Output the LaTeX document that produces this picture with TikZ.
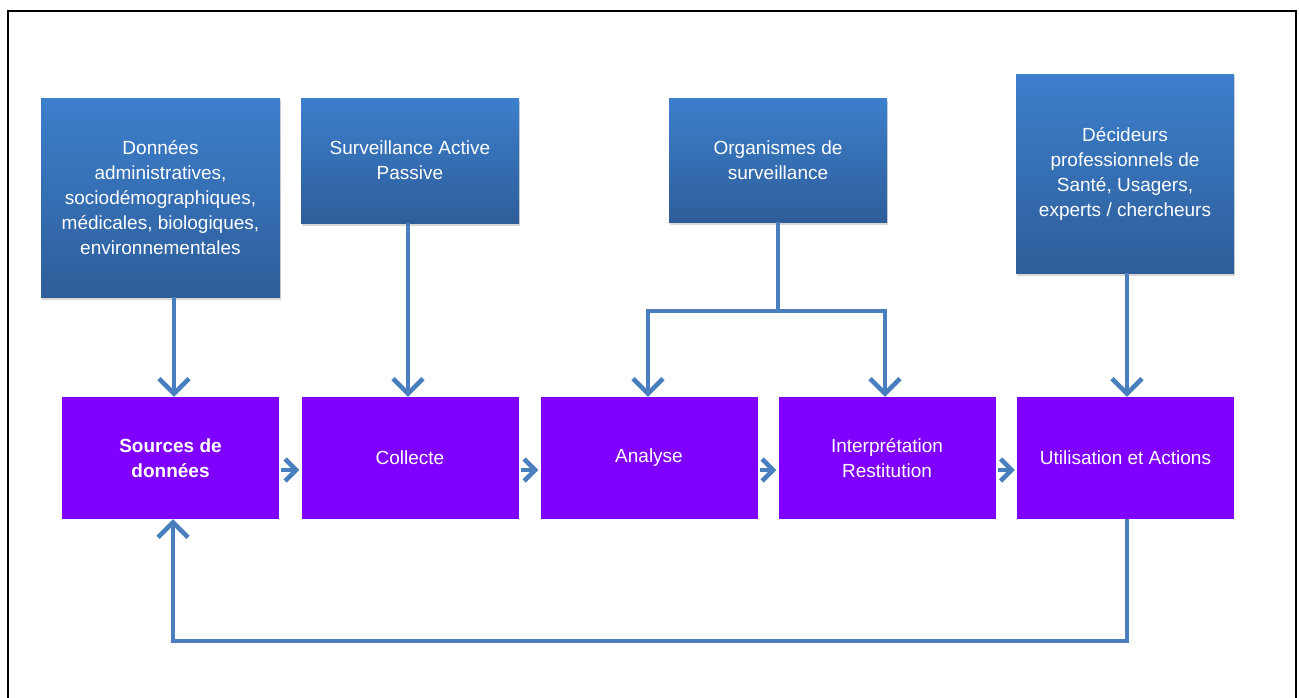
\documentclass[tikz,border=0pt]{standalone}
\usepackage{fontspec}
\setmainfont{Liberation Sans}
\usetikzlibrary{arrows.meta,shadows}
\definecolor{bluetop}{HTML}{3C7FCC}
\definecolor{bluebot}{HTML}{2E5E9A}
\definecolor{purp}{HTML}{8000FF}
\definecolor{arr}{HTML}{4A7FBF}
\begin{document}
\begin{tikzpicture}[x=1pt,y=-1pt,
  txt/.style={text=white, align=center, font=\fontsize{19}{25}\selectfont, inner sep=0pt},
  srcbox/.style={txt, top color=bluetop, bottom color=bluebot, draw=none,
     drop shadow={opacity=0.3, shadow xshift=1pt, shadow yshift=-3pt}},
  stagebox/.style={txt, fill=purp, minimum width=217pt, minimum height=122pt},
  conn/.style={draw=arr, line width=4.5pt, -{Straight Barb[length=15pt,width=30pt]}},
  link/.style={draw=arr, line width=4.5pt},
  hconn/.style={draw=arr, line width=4.5pt, -{Straight Barb[length=11pt,width=22pt]}}
]
\useasboundingbox (0,0) rectangle (1299,697);
\fill[white] (0,0) rectangle (1299,697);
\draw[line width=2pt] (8,705) -- (8,11) -- (1296,11) -- (1296,705);

% source boxes
\node[srcbox, minimum width=239pt, minimum height=199pt] (b1) at (160.5,197.5)
  {Données\\administratives,\\sociodémographiques,\\médicales, biologiques,\\environnementales};
\node[srcbox, minimum width=218pt, minimum height=125pt] (b2) at (410,160.5)
  {Surveillance Active\\Passive};
\node[srcbox, minimum width=218pt, minimum height=124pt] (b3) at (778,160)
  {Organismes de\\surveillance};
\node[srcbox, minimum width=218pt, minimum height=199pt] (b4) at (1125,173.5)
  {Décideurs\\professionnels de\\Santé, Usagers,\\experts / chercheurs};

% stage boxes
\node[stagebox] (p1) at (170.5,458) {\bfseries Sources de\\\bfseries données};
\node[stagebox] (p2) at (410,458) {Collecte};
\node[stagebox] (p3) at (649,458) {Analyse};
\node[stagebox] (p4) at (887,458) {Interprétation\\Restitution};
\node[stagebox] (p5) at (1125.5,458) {Utilisation et Actions};

% vertical arrows
\draw[conn] (b1.south -| 174,0) -- (p1.north -| 174,0);
\draw[conn] (b2.south -| 408,0) -- (p2.north -| 408,0);
\coordinate (split) at (778,311);
\draw[link] (b3.south) -- (split);
\draw[conn] (split) -| (p3.north -| 648,0);
\draw[conn] (split) -| (p4.north -| 885,0);
\draw[conn] (b4.south -| 1127,0) -- (p5.north -| 1127,0);

% horizontal arrows
\draw[hconn, shorten <=2pt, shorten >=2pt] (p1.east |- 0,470) -- (p2.west |- 0,470);
\draw[hconn, shorten <=2pt, shorten >=2pt] (p2.east |- 0,470) -- (p3.west |- 0,470);
\draw[hconn, shorten <=2pt, shorten >=2pt] (p3.east |- 0,470) -- (p4.west |- 0,470);
\draw[hconn, shorten <=2pt, shorten >=2pt] (p4.east |- 0,470) -- (p5.west |- 0,470);

% feedback loop
\coordinate (fbr) at (1127,641);
\coordinate (fbl) at (173,641);
\draw[conn] (p5.south -| 1127,0) -- (fbr) -- (fbl) -- (p1.south -| 173,0);
\end{tikzpicture}
\end{document}
